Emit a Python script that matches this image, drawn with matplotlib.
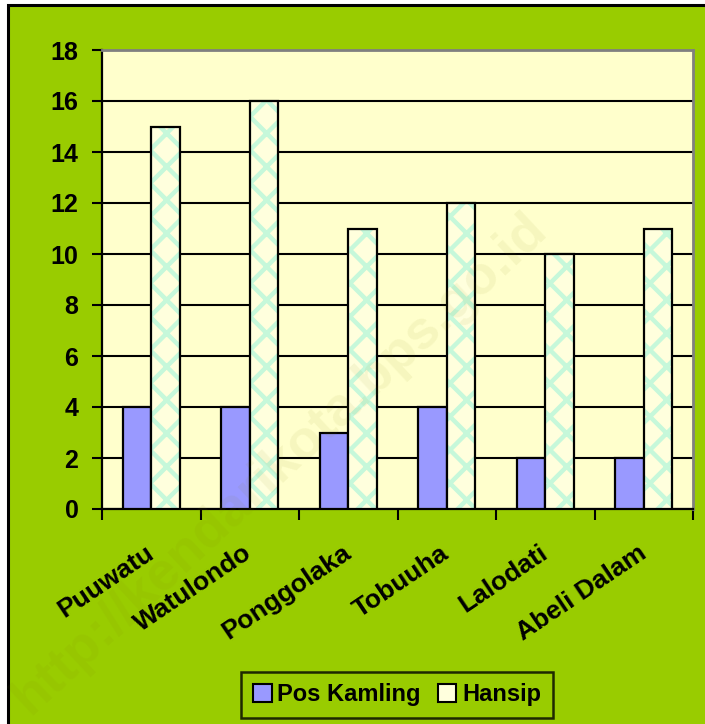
import matplotlib.pyplot as plt
import matplotlib.patches as mpatches
import matplotlib.transforms as mtransforms
import numpy as np

plt.rcParams['font.family'] = ['Liberation Sans', 'DejaVu Sans']
plt.rcParams['font.weight'] = 'bold'
plt.rcParams['hatch.linewidth'] = 3.2

# Data
categories = ["Puuwatu", "Watulondo", "Ponggolaka", "Tobuuha", "Lalodati", "Abeli Dalam"]
pos_kamling = [4, 4, 3, 4, 2, 2]
hansip = [15, 16, 11, 12, 10, 11]
y_ticks = [0, 2, 4, 6, 8, 10, 12, 14, 16, 18]

GREEN = '#99CC00'
PLOT_BG = '#FFFFCC'
BLUE = '#9999FF'
MINT = '#C6F8DA'
LIGHT = '#FFFFDD'

W, H = 705, 724
fig = plt.figure(figsize=(W / 100, H / 100), dpi=100, facecolor='white')

# green chart area with black border (right/bottom run off the image)
bg = mpatches.Rectangle((8 / W, -0.05), 1.1, 1 - 5 / H + 0.05,
                        transform=fig.transFigure, facecolor=GREEN,
                        edgecolor='black', linewidth=2.2, zorder=-10)
fig.patches.append(bg)

ax = fig.add_axes([102 / W, 1 - 509 / H, (693 - 102) / W, (509 - 50) / H])
ax.set_facecolor(PLOT_BG)

x = np.arange(len(categories))
bw = 0.29
ax.bar(x - bw / 2, pos_kamling, bw, color=BLUE, edgecolor='black',
       linewidth=1.6, zorder=3, label='Pos Kamling')
ax.bar(x + bw / 2, hansip, bw, color=LIGHT, edgecolor=MINT, hatch='x',
       linewidth=0, zorder=3)
ax.bar(x + bw / 2, hansip, bw, color='none', edgecolor='black',
       linewidth=1.6, zorder=4)

ax.set_xlim(-0.5, len(categories) - 0.5)
ax.set_ylim(0, 18)
ax.set_yticks(y_ticks)
ax.yaxis.grid(True, color='black', linewidth=1.5, zorder=1)
ax.set_axisbelow(True)

ax.set_xticks(x)
ax.set_xticklabels(categories, rotation=34, ha='right', va='center',
                   rotation_mode='anchor', fontsize=19, fontweight='bold')
shift = mtransforms.ScaledTranslation(-9 / 100, 0, fig.dpi_scale_trans)
for lbl in ax.get_xticklabels():
    lbl.set_transform(lbl.get_transform() + shift)
ax.set_xticks(np.arange(len(categories) + 1) - 0.5, minor=True)
ax.tick_params(axis='x', which='major', length=0, pad=30)
ax.tick_params(axis='x', which='minor', length=8, width=1.5, direction='out')
ax.tick_params(axis='y', length=7, width=1.5, direction='out', pad=10,
               labelsize=18)
for lbl in ax.get_yticklabels():
    lbl.set_fontweight('bold')

for side in ['left', 'bottom']:
    ax.spines[side].set_color('black')
    ax.spines[side].set_linewidth(1.6)
for side in ['top', 'right']:
    ax.spines[side].set_color('#808080')
    ax.spines[side].set_linewidth(2)

# watermark
fig.text(0.397, 0.36, 'http://kendarikota.bps.go.id', rotation=43,
         fontsize=39, color='#808000', alpha=0.07, ha='center',
         va='center', fontweight='bold')

handles = [mpatches.Patch(facecolor=BLUE, edgecolor='black', linewidth=1.5),
           mpatches.Patch(facecolor=LIGHT, edgecolor='black', linewidth=1.5)]
leg = fig.legend(handles, ['Pos Kamling', 'Hansip'], loc='center',
                 bbox_to_anchor=(397 / W, 1 - 695 / H), ncol=2,
                 frameon=True, fancybox=False, fontsize=17,
                 handlelength=0.8, handleheight=0.8, handletextpad=0.25,
                 columnspacing=0.7, borderpad=0.5, borderaxespad=0)
leg.get_frame().set_facecolor(GREEN)
leg.get_frame().set_edgecolor('black')
leg.get_frame().set_linewidth(1.8)
for t in leg.get_texts():
    t.set_fontweight('bold')

fig.savefig('out.png', dpi=100, facecolor=fig.get_facecolor())
